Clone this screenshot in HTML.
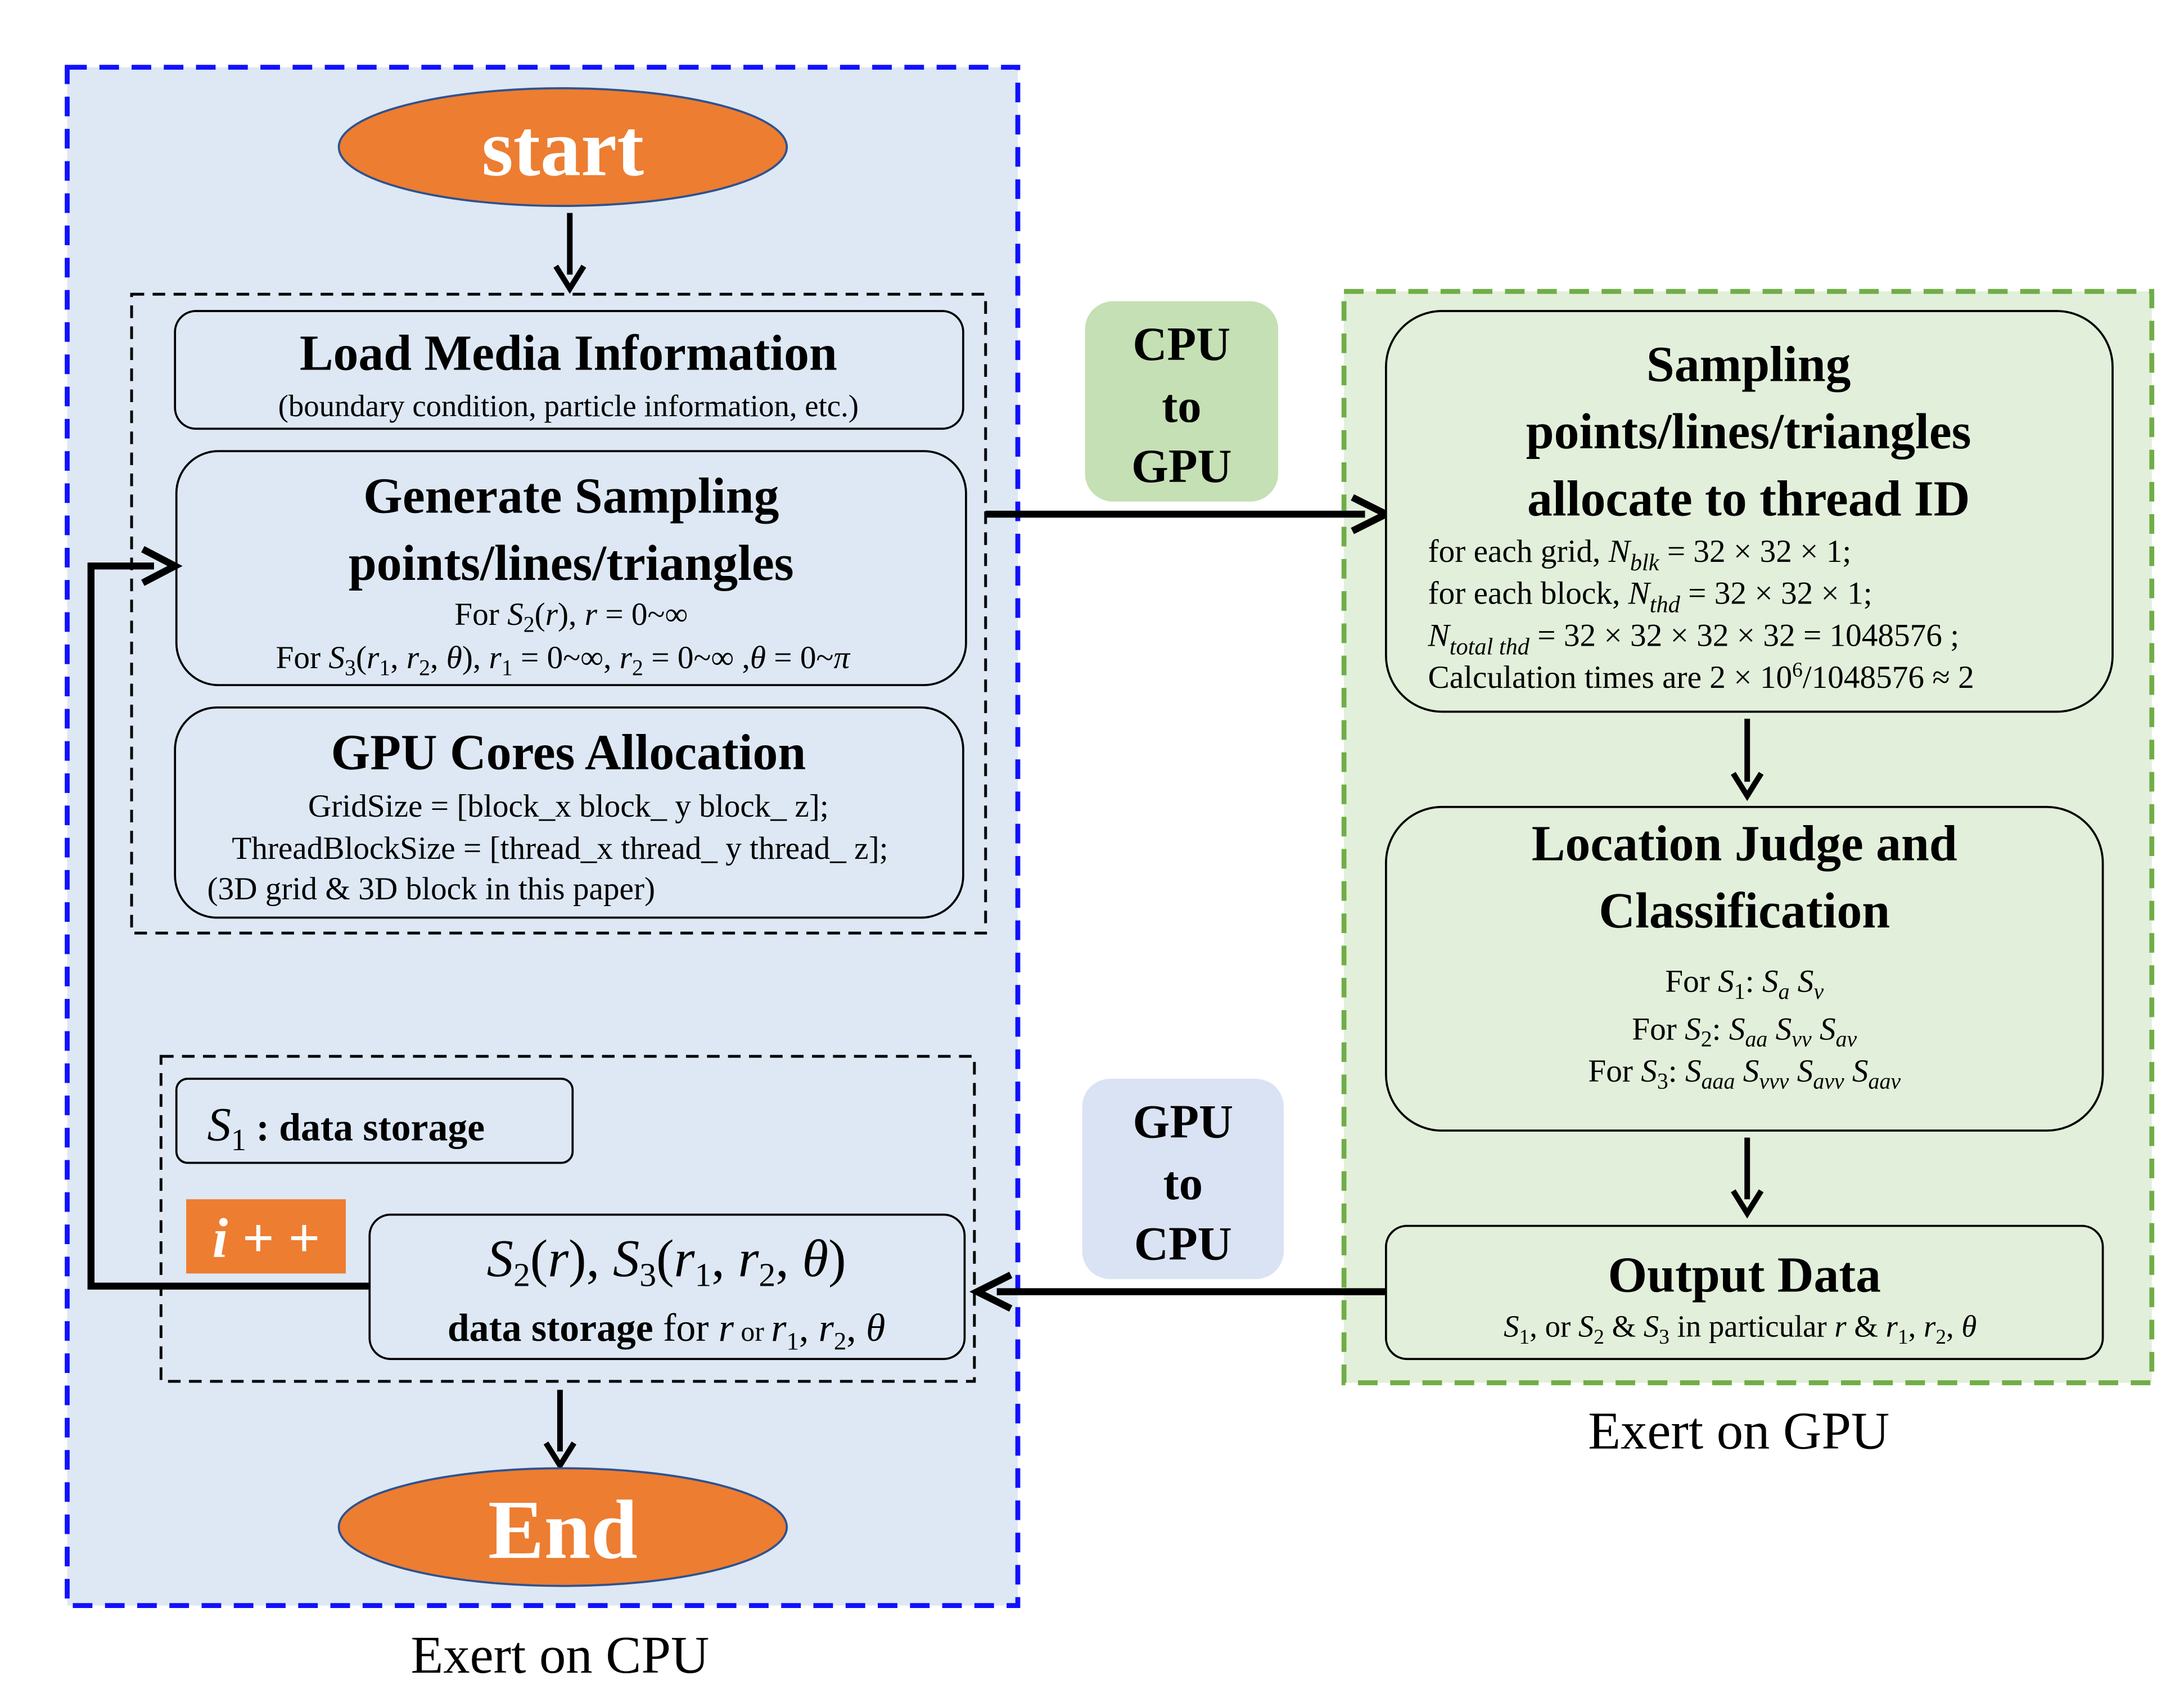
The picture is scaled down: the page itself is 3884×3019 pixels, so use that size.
<!DOCTYPE html>
<html><head><meta charset="utf-8"><style>
html,body{margin:0;padding:0;background:#fff}
svg{display:block}
text{font-family:"Liberation Serif",serif;fill:#000}
.t{font-weight:bold;font-size:36px;text-anchor:middle}
.s{font-size:23px;text-anchor:middle}
.l{font-size:23px}
</style></head><body>
<svg width="3884" height="3019" viewBox="0 0 1560 1212" preserveAspectRatio="none" xmlns="http://www.w3.org/2000/svg">
<rect x="0" y="0" width="1560" height="1212" fill="#fff"/>
<rect x="48" y="48" width="679" height="1098" fill="#dde8f4" stroke="#1010ff" stroke-width="3.5" stroke-dasharray="14,9"/>
<rect x="960" y="208" width="577" height="779" fill="#e2efda" stroke="#70ad47" stroke-width="3.5" stroke-dasharray="14,9"/>

<ellipse cx="402" cy="105" rx="160" ry="42" fill="#ed7d31" stroke="#2f528f" stroke-width="1.5"/>
<text x="402" y="125" style="font-weight:bold;font-size:58px;text-anchor:middle;fill:#fff">start</text>

<g stroke="#000" stroke-width="4" fill="none">
<line x1="407" y1="152" x2="407" y2="196"/>
<path d="M397,190 L407,206 L417,190"/>
</g>

<rect x="94" y="210" width="610" height="456" fill="none" stroke="#000" stroke-width="2" stroke-dasharray="9,6"/>

<rect x="125" y="222" width="563" height="84" rx="15" fill="#dde8f4" stroke="#000" stroke-width="1.5"/>
<text class="t" x="406" y="264">Load Media Information</text>
<text x="406" y="297" style="font-size:22px;text-anchor:middle">(boundary condition, particle information, etc.)</text>

<rect x="126" y="322" width="564" height="167" rx="30" fill="#dde8f4" stroke="#000" stroke-width="1.5"/>
<text class="t" x="408" y="366">Generate Sampling</text>
<text class="t" x="408" y="414">points/lines/triangles</text>
<text class="s" x="408" y="446">For <tspan font-style="italic">S</tspan><tspan font-size="16" dy="5">2</tspan><tspan dy="-5">(</tspan><tspan font-style="italic">r</tspan>),  <tspan font-style="italic">r</tspan>  =  0~∞</text>
<text class="s" x="402" y="477">For <tspan font-style="italic">S</tspan><tspan font-size="16" dy="5">3</tspan><tspan dy="-5">(</tspan><tspan font-style="italic">r</tspan><tspan font-size="16" dy="5">1</tspan><tspan dy="-5">, </tspan><tspan font-style="italic">r</tspan><tspan font-size="16" dy="5">2</tspan><tspan dy="-5">, </tspan><tspan font-style="italic">θ</tspan>),   <tspan font-style="italic">r</tspan><tspan font-size="16" dy="5">1</tspan><tspan dy="-5">  =  0~∞,  </tspan><tspan font-style="italic">r</tspan><tspan font-size="16" dy="5">2</tspan><tspan dy="-5">  =  0~∞ ,</tspan><tspan font-style="italic">θ</tspan>  =  0~<tspan font-style="italic">π</tspan></text>

<rect x="125" y="505" width="563" height="150" rx="30" fill="#dde8f4" stroke="#000" stroke-width="1.5"/>
<text class="t" x="406" y="549">GPU Cores Allocation</text>
<text class="s" x="406" y="583">GridSize = [block_x block_ y block_ z];</text>
<text class="s" x="400" y="613">ThreadBlockSize = [thread_x thread_ y thread_ z];</text>
<text class="l" x="148" y="642">(3D grid &amp; 3D block  in this paper)</text>

<rect x="775" y="215" width="138" height="143" rx="20" fill="#c5e0b4"/>
<text x="844" y="257" style="font-weight:bold;font-size:34px;text-anchor:middle">CPU</text>
<text x="844" y="301" style="font-weight:bold;font-size:34px;text-anchor:middle">to</text>
<text x="844" y="344" style="font-weight:bold;font-size:34px;text-anchor:middle">GPU</text>
<line x1="704" y1="367" x2="975" y2="367" stroke="#000" stroke-width="5"/>
<path d="M966,355 L990,367 L966,379" fill="none" stroke="#000" stroke-width="5"/>

<rect x="990" y="222" width="519" height="286" rx="40" fill="#e2efda" stroke="#000" stroke-width="1.5"/>
<text class="t" x="1249" y="272">Sampling</text>
<text class="t" x="1249" y="320">points/lines/triangles</text>
<text class="t" x="1249" y="368">allocate to thread ID</text>
<text class="l" x="1020" y="401">for each grid, <tspan font-style="italic">N</tspan><tspan font-size="17" font-style="italic" dy="6">blk</tspan><tspan dy="-6">  =  32  ×  32  ×  1;</tspan></text>
<text class="l" x="1020" y="431">for each block, <tspan font-style="italic">N</tspan><tspan font-size="17" font-style="italic" dy="6">thd</tspan><tspan dy="-6">  =  32  ×  32  ×  1;</tspan></text>
<text class="l" x="1020" y="461"><tspan font-style="italic">N</tspan><tspan font-size="17" font-style="italic" dy="6">total thd</tspan><tspan dy="-6">  =  32  ×  32  ×  32  ×  32  =  1048576 ;</tspan></text>
<text class="l" x="1020" y="491">Calculation times are  2  ×  10<tspan font-size="15" dy="-8">6</tspan><tspan dy="8">/1048576  ≈  2</tspan></text>

<g stroke="#000" stroke-width="4" fill="none">
<line x1="1248" y1="513" x2="1248" y2="558"/>
<path d="M1238,552 L1248,568 L1258,552"/>
<line x1="1248" y1="812" x2="1248" y2="856"/>
<path d="M1238,850 L1248,866 L1258,850"/>
</g>

<rect x="990" y="576" width="512" height="231" rx="40" fill="#e2efda" stroke="#000" stroke-width="1.5"/>
<text class="t" x="1246" y="614">Location Judge and</text>
<text class="t" x="1246" y="662">Classification</text>
<text class="s" x="1246" y="708">For <tspan font-style="italic">S</tspan><tspan font-size="16" dy="5">1</tspan><tspan dy="-5">: </tspan><tspan font-style="italic">S</tspan><tspan font-size="16" font-style="italic" dy="5">a</tspan><tspan dy="-5">  </tspan><tspan font-style="italic">S</tspan><tspan font-size="16" font-style="italic" dy="5">v</tspan></text>
<text class="s" x="1246" y="742">For <tspan font-style="italic">S</tspan><tspan font-size="16" dy="5">2</tspan><tspan dy="-5">: </tspan><tspan font-style="italic">S</tspan><tspan font-size="16" font-style="italic" dy="5">aa</tspan><tspan dy="-5"> </tspan><tspan font-style="italic">S</tspan><tspan font-size="16" font-style="italic" dy="5">vv</tspan><tspan dy="-5"> </tspan><tspan font-style="italic">S</tspan><tspan font-size="16" font-style="italic" dy="5">av</tspan></text>
<text class="s" x="1246" y="772">For <tspan font-style="italic">S</tspan><tspan font-size="16" dy="5">3</tspan><tspan dy="-5">: </tspan><tspan font-style="italic">S</tspan><tspan font-size="16" font-style="italic" dy="5">aaa</tspan><tspan dy="-5"> </tspan><tspan font-style="italic">S</tspan><tspan font-size="16" font-style="italic" dy="5">vvv</tspan><tspan dy="-5"> </tspan><tspan font-style="italic">S</tspan><tspan font-size="16" font-style="italic" dy="5">avv</tspan><tspan dy="-5"> </tspan><tspan font-style="italic">S</tspan><tspan font-size="16" font-style="italic" dy="5">aav</tspan></text>

<rect x="990" y="875" width="512" height="95" rx="15" fill="#e2efda" stroke="#000" stroke-width="1.5"/>
<text class="t" x="1246" y="922">Output Data</text>
<text x="1243" y="954" style="font-size:22px;text-anchor:middle"><tspan font-style="italic">S</tspan><tspan font-size="15" dy="5">1</tspan><tspan dy="-5">, or </tspan><tspan font-style="italic">S</tspan><tspan font-size="15" dy="5">2</tspan><tspan dy="-5"> &amp; </tspan><tspan font-style="italic">S</tspan><tspan font-size="15" dy="5">3</tspan><tspan dy="-5"> in particular </tspan><tspan font-style="italic">r</tspan> &amp;   <tspan font-style="italic">r</tspan><tspan font-size="15" dy="5">1</tspan><tspan dy="-5">, </tspan><tspan font-style="italic">r</tspan><tspan font-size="15" dy="5">2</tspan><tspan dy="-5">, </tspan><tspan font-style="italic">θ</tspan></text>

<rect x="773" y="770" width="144" height="143" rx="20" fill="#dae3f3"/>
<text x="845" y="812" style="font-weight:bold;font-size:34px;text-anchor:middle">GPU</text>
<text x="845" y="856" style="font-weight:bold;font-size:34px;text-anchor:middle">to</text>
<text x="845" y="899" style="font-weight:bold;font-size:34px;text-anchor:middle">CPU</text>
<line x1="990" y1="922" x2="712" y2="922" stroke="#000" stroke-width="5"/>
<path d="M722,910 L698,922 L722,934" fill="none" stroke="#000" stroke-width="5"/>

<text x="1242" y="1034" style="font-size:38px;text-anchor:middle">Exert on GPU</text>

<rect x="115" y="754" width="581" height="232" fill="none" stroke="#000" stroke-width="2" stroke-dasharray="9,6"/>
<rect x="126" y="770" width="283" height="60" rx="8" fill="#dde8f4" stroke="#000" stroke-width="1.5"/>
<text x="148" y="814" style="font-size:34px"><tspan font-style="italic">S</tspan><tspan font-size="22" dy="7">1</tspan><tspan dy="-7" font-weight="bold" font-size="28"> : data storage</tspan></text>

<rect x="133" y="856" width="114" height="53" fill="#ed7d31"/>
<text x="190" y="897" style="font-size:40px;font-weight:bold;font-style:italic;text-anchor:middle;fill:#fff">i + +</text>

<polyline points="264,918 65,918 65,404 110,404" fill="none" stroke="#000" stroke-width="5"/>
<path d="M102,392 L125,404 L102,416" fill="none" stroke="#000" stroke-width="5"/>

<rect x="264" y="867" width="425" height="103" rx="15" fill="#dde8f4" stroke="#000" stroke-width="1.5"/>
<text x="476" y="911" style="font-size:38px;text-anchor:middle"><tspan font-style="italic">S</tspan><tspan font-size="24" dy="7">2</tspan><tspan dy="-7">(</tspan><tspan font-style="italic">r</tspan>), <tspan font-style="italic">S</tspan><tspan font-size="24" dy="7">3</tspan><tspan dy="-7">(</tspan><tspan font-style="italic">r</tspan><tspan font-size="24" dy="7">1</tspan><tspan dy="-7">, </tspan><tspan font-style="italic">r</tspan><tspan font-size="24" dy="7">2</tspan><tspan dy="-7">, </tspan><tspan font-style="italic">θ</tspan>)</text>
<text x="476" y="957" style="font-size:28px;text-anchor:middle"><tspan font-weight="bold">data storage</tspan> for  <tspan font-style="italic">r</tspan><tspan font-size="20"> or </tspan><tspan font-style="italic">r</tspan><tspan font-size="18" dy="6">1</tspan><tspan dy="-6">, </tspan><tspan font-style="italic">r</tspan><tspan font-size="18" dy="6">2</tspan><tspan dy="-6">, </tspan><tspan font-style="italic">θ</tspan></text>

<g stroke="#000" stroke-width="4" fill="none">
<line x1="400" y1="992" x2="400" y2="1036"/>
<path d="M390,1030 L400,1046 L410,1030"/>
</g>

<ellipse cx="402" cy="1090" rx="160" ry="42" fill="#ed7d31" stroke="#2f528f" stroke-width="1.5"/>
<text x="402" y="1112" style="font-weight:bold;font-size:60px;text-anchor:middle;fill:#fff">End</text>

<text x="400" y="1194" style="font-size:38px;text-anchor:middle">Exert on CPU</text>
</svg>
</body></html>
